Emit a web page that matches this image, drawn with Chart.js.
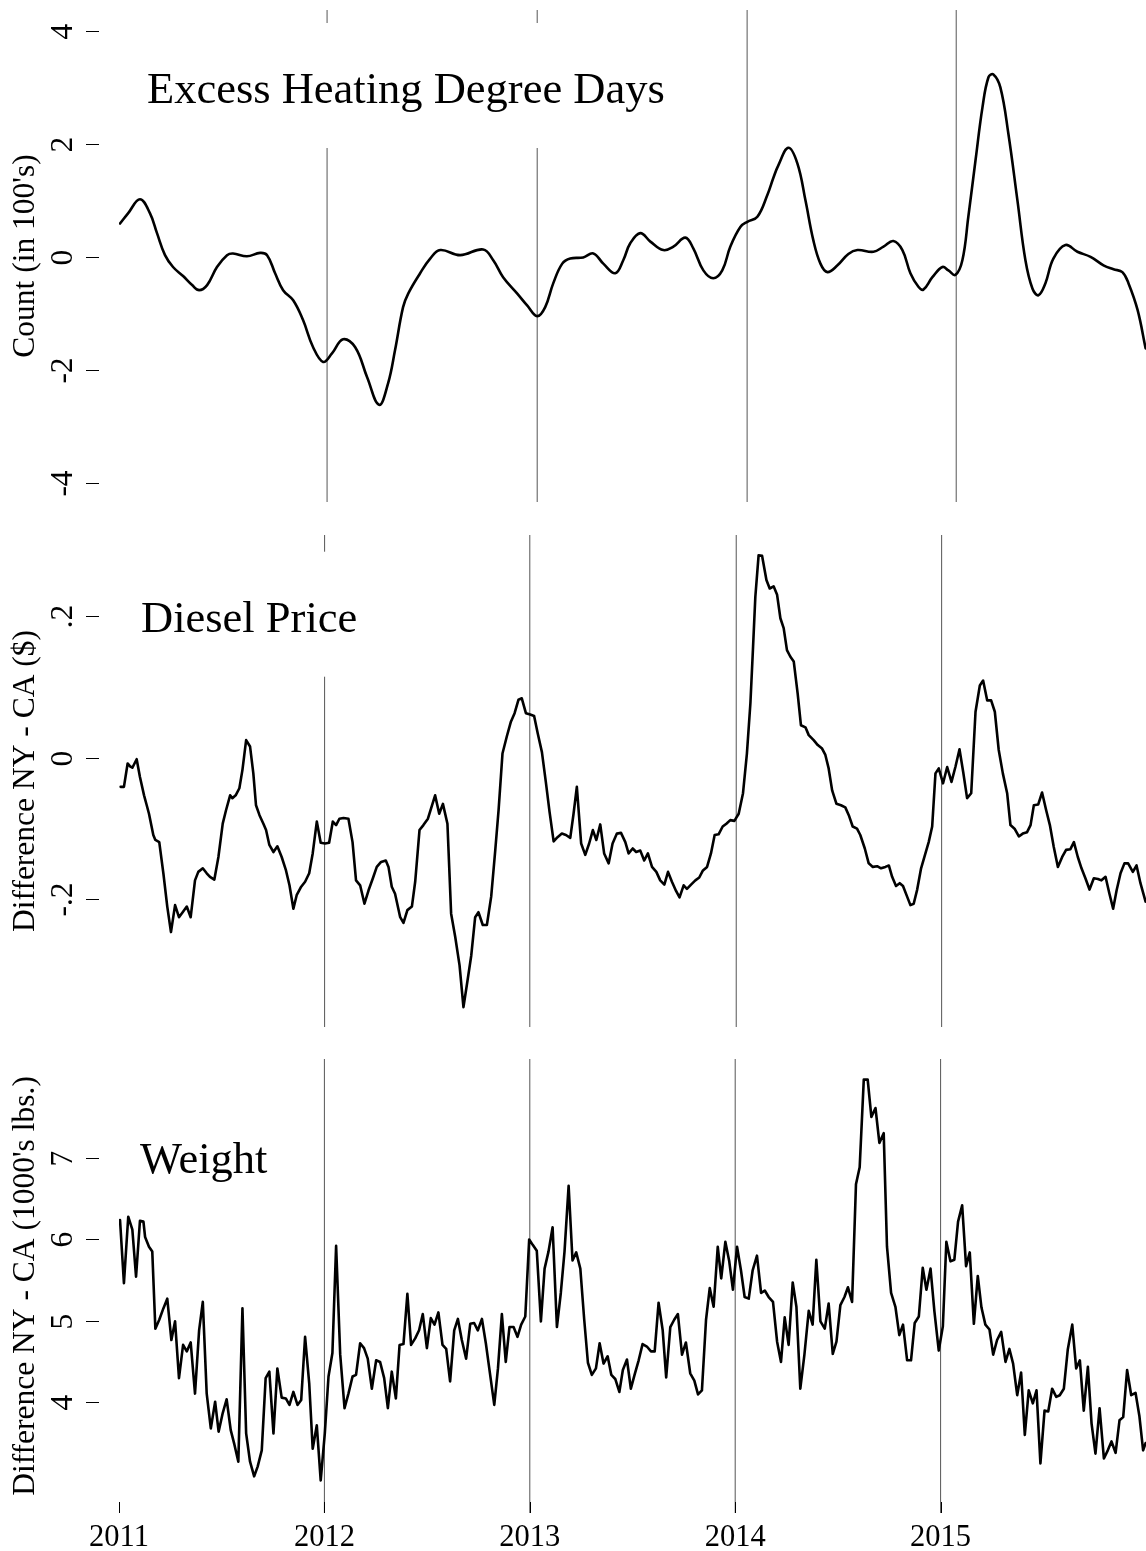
<!DOCTYPE html>
<html>
<head>
<meta charset="utf-8">
<script src="https://cdn.jsdelivr.net/npm/chart.js@4.4.1/dist/chart.umd.min.js"></script>
<style>
    html, body { margin: 0; padding: 0; background: #fff; }
    #wrap { position: relative; width: 1146px; height: 1551px; }
    canvas { position: absolute; left: 0; }
</style>
</head>
<body>
<div id="wrap">
    <canvas id="HeatCanvas" width="1146" height="518" style="top:0px"></canvas>
    <canvas id="DieselCanvas" width="1146" height="518" style="top:518px"></canvas>
    <canvas id="WeightCanvas" width="1146" height="515" style="top:1036px"></canvas>
</div>
<script>
//---------------------- DATA

const yearTicks = [2011, 2012, 2013, 2014, 2015];

// excess heating degree days (smoothed, in 100's)
const heatYears = [
    2011.005, 2011.044, 2011.102, 2011.151, 2011.185, 2011.224, 2011.263, 2011.312, 2011.356, 2011.390,
    2011.429, 2011.477, 2011.526, 2011.555, 2011.623, 2011.687, 2011.721, 2011.760, 2011.799, 2011.848,
    2011.896, 2011.945, 2011.994, 2012.037, 2012.091, 2012.150, 2012.208, 2012.266, 2012.310, 2012.344,
    2012.383, 2012.408, 2012.466, 2012.515, 2012.564, 2012.661, 2012.773, 2012.822, 2012.870, 2012.939,
    2012.987, 2013.036, 2013.075, 2013.114, 2013.158, 2013.197, 2013.260, 2013.309, 2013.358, 2013.416,
    2013.455, 2013.489, 2013.538, 2013.587, 2013.650, 2013.699, 2013.757, 2013.796, 2013.845, 2013.893,
    2013.937, 2013.976, 2014.025, 2014.059, 2014.108, 2014.157, 2014.186, 2014.210, 2014.259, 2014.303,
    2014.342, 2014.380, 2014.415, 2014.449, 2014.498, 2014.551, 2014.595, 2014.673, 2014.722, 2014.770,
    2014.814, 2014.853, 2014.892, 2014.916, 2014.960, 2015.009, 2015.038, 2015.072, 2015.106, 2015.135,
    2015.170, 2015.204, 2015.233, 2015.257, 2015.291, 2015.330, 2015.374, 2015.413, 2015.447, 2015.476,
    2015.510, 2015.549, 2015.608, 2015.666, 2015.730, 2015.793, 2015.842, 2015.885, 2015.915, 2015.959,
    2015.998
];
const heatValues = [
    0.59, 0.77, 1.02, 0.77, 0.42, 0.03, -0.18, -0.34, -0.5, -0.59,
    -0.5, -0.18, 0.03, 0.06, 0.01, 0.07, 0.03, -0.29, -0.59, -0.77,
    -1.12, -1.6, -1.86, -1.71, -1.46, -1.6, -2.13, -2.62, -2.24, -1.65,
    -0.89, -0.65, -0.29, -0.03, 0.12, 0.03, 0.13, -0.06, -0.36, -0.65,
    -0.86, -1.05, -0.89, -0.47, -0.12, -0.03, -0.01, 0.06, -0.12, -0.29,
    -0.06, 0.24, 0.42, 0.27, 0.12, 0.18, 0.34, 0.15, -0.24, -0.38,
    -0.24, 0.18, 0.53, 0.62, 0.71, 1.1, 1.4, 1.62, 1.93, 1.65,
    1.0, 0.3, -0.12, -0.27, -0.15, 0.05, 0.12, 0.09, 0.18, 0.28,
    0.12, -0.29, -0.53, -0.58, -0.36, -0.18, -0.24, -0.32, -0.06, 0.71,
    1.71, 2.65, 3.18, 3.23, 3.0, 2.18, 1.0, -0.06, -0.56, -0.68,
    -0.47, -0.03, 0.21, 0.09, 0.0, -0.15, -0.22, -0.27, -0.47, -0.94,
    -1.62
];
const heatBreaks = [2012.013, 2013.036, 2014.058, 2015.076];
const heatTicks = [-4, -2, 0, 2, 4];
const heatTickLabels = ['-4', '-2', '0', '2', '4'];

// diesel price difference NY - CA ($), weekly
const dieselYears = [
    2011.008, 2011.024, 2011.042, 2011.054, 2011.065, 2011.086, 2011.102, 2011.122, 2011.135, 2011.146,
    2011.167, 2011.177, 2011.196, 2011.216, 2011.235, 2011.253, 2011.273, 2011.292, 2011.310, 2011.330,
    2011.349, 2011.370, 2011.386, 2011.408, 2011.427, 2011.443, 2011.464, 2011.484, 2011.505, 2011.521,
    2011.541, 2011.552, 2011.568, 2011.586, 2011.601, 2011.619, 2011.638, 2011.654, 2011.667, 2011.684,
    2011.703, 2011.716, 2011.732, 2011.752, 2011.771, 2011.792, 2011.813, 2011.830, 2011.849, 2011.865,
    2011.887, 2011.906, 2011.926, 2011.943, 2011.963, 2011.982, 2012.003, 2012.023, 2012.041, 2012.057,
    2012.073, 2012.093, 2012.117, 2012.137, 2012.154, 2012.174, 2012.195, 2012.215, 2012.236, 2012.255,
    2012.276, 2012.299, 2012.312, 2012.328, 2012.344, 2012.369, 2012.385, 2012.404, 2012.426, 2012.442,
    2012.463, 2012.482, 2012.504, 2012.539, 2012.559, 2012.577, 2012.599, 2012.617, 2012.637, 2012.658,
    2012.677, 2012.697, 2012.715, 2012.734, 2012.750, 2012.771, 2012.791, 2012.812, 2012.832, 2012.848,
    2012.867, 2012.888, 2012.908, 2012.926, 2012.945, 2012.961, 2012.981, 2013.002, 2013.021, 2013.039,
    2013.059, 2013.078, 2013.096, 2013.116, 2013.135, 2013.156, 2013.176, 2013.197, 2013.213, 2013.229,
    2013.250, 2013.270, 2013.289, 2013.307, 2013.324, 2013.343, 2013.362, 2013.384, 2013.403, 2013.424,
    2013.444, 2013.465, 2013.481, 2013.501, 2013.518, 2013.538, 2013.557, 2013.575, 2013.595, 2013.616,
    2013.635, 2013.655, 2013.673, 2013.692, 2013.712, 2013.729, 2013.749, 2013.765, 2013.785, 2013.806,
    2013.825, 2013.843, 2013.863, 2013.882, 2013.900, 2013.919, 2013.939, 2013.957, 2013.976, 2013.996,
    2014.017, 2014.038, 2014.057, 2014.074, 2014.087, 2014.098, 2014.114, 2014.131, 2014.152, 2014.168,
    2014.187, 2014.204, 2014.220, 2014.236, 2014.252, 2014.268, 2014.285, 2014.304, 2014.320, 2014.342,
    2014.358, 2014.382, 2014.402, 2014.423, 2014.439, 2014.455, 2014.472, 2014.493, 2014.515, 2014.536,
    2014.553, 2014.572, 2014.593, 2014.609, 2014.631, 2014.650, 2014.670, 2014.691, 2014.710, 2014.731,
    2014.748, 2014.764, 2014.783, 2014.801, 2014.817, 2014.837, 2014.853, 2014.869, 2014.886, 2014.905,
    2014.924, 2014.942, 2014.959, 2014.975, 2014.991, 2015.012, 2015.032, 2015.053, 2015.072, 2015.092,
    2015.110, 2015.129, 2015.149, 2015.170, 2015.191, 2015.207, 2015.227, 2015.246, 2015.264, 2015.283,
    2015.303, 2015.324, 2015.340, 2015.360, 2015.381, 2015.400, 2015.421, 2015.438, 2015.454, 2015.475,
    2015.494, 2015.514, 2015.532, 2015.551, 2015.571, 2015.592, 2015.611, 2015.632, 2015.649, 2015.668,
    2015.686, 2015.705, 2015.725, 2015.746, 2015.766, 2015.783, 2015.803, 2015.822, 2015.840, 2015.857,
    2015.876, 2015.895, 2015.913, 2015.936, 2015.954, 2015.973, 2015.998
];
const dieselValues = [
    -0.041, -0.041, -0.008, -0.012, -0.014, -0.002, -0.027, -0.053, -0.067, -0.079,
    -0.109, -0.116, -0.119, -0.163, -0.210, -0.246, -0.208, -0.225, -0.218, -0.210,
    -0.225, -0.173, -0.161, -0.156, -0.163, -0.168, -0.172, -0.140, -0.093, -0.074,
    -0.053, -0.057, -0.053, -0.043, -0.017, 0.025, 0.016, -0.022, -0.067, -0.081,
    -0.093, -0.102, -0.123, -0.133, -0.125, -0.140, -0.159, -0.180, -0.213, -0.194,
    -0.182, -0.175, -0.163, -0.135, -0.090, -0.120, -0.121, -0.120, -0.090, -0.095,
    -0.086, -0.085, -0.086, -0.119, -0.173, -0.180, -0.206, -0.187, -0.170, -0.154,
    -0.147, -0.145, -0.154, -0.182, -0.192, -0.225, -0.233, -0.215, -0.210, -0.175,
    -0.102, -0.095, -0.086, -0.053, -0.079, -0.065, -0.093, -0.220, -0.253, -0.293,
    -0.352, -0.314, -0.279, -0.225, -0.218, -0.236, -0.236, -0.196, -0.130, -0.074,
    0.006, 0.030, 0.051, 0.063, 0.082, 0.084, 0.063, 0.061, 0.059, 0.034,
    0.008, -0.034, -0.076, -0.118, -0.112, -0.107, -0.109, -0.113, -0.079, -0.041,
    -0.121, -0.137, -0.121, -0.102, -0.116, -0.094, -0.135, -0.149, -0.121, -0.107,
    -0.106, -0.119, -0.135, -0.128, -0.133, -0.131, -0.145, -0.135, -0.154, -0.161,
    -0.173, -0.179, -0.161, -0.175, -0.188, -0.197, -0.180, -0.185, -0.179, -0.173,
    -0.169, -0.159, -0.154, -0.135, -0.109, -0.108, -0.097, -0.093, -0.088, -0.089,
    -0.079, -0.050, 0.006, 0.077, 0.157, 0.227, 0.286, 0.285, 0.251, 0.239,
    0.242, 0.230, 0.197, 0.183, 0.152, 0.143, 0.136, 0.091, 0.046, 0.043,
    0.032, 0.025, 0.018, 0.013, 0.004, -0.015, -0.046, -0.065, -0.067, -0.070,
    -0.081, -0.097, -0.100, -0.109, -0.128, -0.149, -0.154, -0.153, -0.156, -0.154,
    -0.152, -0.168, -0.181, -0.177, -0.181, -0.196, -0.208, -0.206, -0.186, -0.156,
    -0.137, -0.119, -0.097, -0.022, -0.015, -0.036, -0.013, -0.034, -0.013, 0.012,
    -0.020, -0.057, -0.050, 0.065, 0.102, 0.109, 0.081, 0.081, 0.065, 0.011,
    -0.022, -0.050, -0.095, -0.100, -0.111, -0.107, -0.105, -0.095, -0.067, -0.066,
    -0.049, -0.074, -0.095, -0.126, -0.154, -0.140, -0.130, -0.129, -0.119, -0.140,
    -0.156, -0.170, -0.186, -0.170, -0.171, -0.173, -0.168, -0.192, -0.213, -0.187,
    -0.163, -0.149, -0.149, -0.161, -0.152, -0.177, -0.203
];
const dieselBreaks = [2012.001, 2013.0, 2014.005, 2015.005];
const dieselTicks = [-0.2, 0, 0.2];
const dieselTickLabels = ['-.2', '0', '.2'];

// weight difference NY - CA (1000's lbs.), weekly
const weightYears = [
    2011.005, 2011.024, 2011.045, 2011.065, 2011.083, 2011.102, 2011.119, 2011.127, 2011.146, 2011.162,
    2011.177, 2011.196, 2011.216, 2011.235, 2011.255, 2011.273, 2011.292, 2011.312, 2011.330, 2011.349,
    2011.370, 2011.390, 2011.408, 2011.427, 2011.447, 2011.468, 2011.485, 2011.505, 2011.524, 2011.544,
    2011.562, 2011.581, 2011.601, 2011.619, 2011.638, 2011.658, 2011.675, 2011.695, 2011.714, 2011.732,
    2011.752, 2011.771, 2011.792, 2011.812, 2011.830, 2011.849, 2011.869, 2011.887, 2011.906, 2011.926,
    2011.943, 2011.963, 2011.982, 2012.002, 2012.020, 2012.039, 2012.057, 2012.077, 2012.098, 2012.117,
    2012.137, 2012.154, 2012.174, 2012.193, 2012.211, 2012.231, 2012.252, 2012.271, 2012.291, 2012.309,
    2012.328, 2012.348, 2012.366, 2012.385, 2012.404, 2012.422, 2012.442, 2012.461, 2012.479, 2012.499,
    2012.518, 2012.536, 2012.555, 2012.575, 2012.593, 2012.612, 2012.632, 2012.650, 2012.669, 2012.690,
    2012.710, 2012.729, 2012.747, 2012.767, 2012.786, 2012.807, 2012.827, 2012.845, 2012.864, 2012.883,
    2012.901, 2012.921, 2012.940, 2012.958, 2012.978, 2012.997, 2013.015, 2013.034, 2013.054, 2013.072,
    2013.091, 2013.111, 2013.132, 2013.151, 2013.169, 2013.189, 2013.208, 2013.226, 2013.246, 2013.265,
    2013.283, 2013.302, 2013.322, 2013.340, 2013.359, 2013.379, 2013.397, 2013.416, 2013.436, 2013.453,
    2013.473, 2013.492, 2013.510, 2013.530, 2013.549, 2013.570, 2013.590, 2013.608, 2013.627, 2013.647,
    2013.664, 2013.684, 2013.703, 2013.721, 2013.741, 2013.760, 2013.781, 2013.801, 2013.819, 2013.838,
    2013.858, 2013.876, 2013.895, 2013.915, 2013.932, 2013.952, 2013.971, 2013.989, 2014.009, 2014.028,
    2014.046, 2014.066, 2014.085, 2014.106, 2014.126, 2014.144, 2014.163, 2014.184, 2014.204, 2014.223,
    2014.241, 2014.260, 2014.280, 2014.298, 2014.317, 2014.337, 2014.358, 2014.377, 2014.395, 2014.415,
    2014.436, 2014.455, 2014.475, 2014.493, 2014.512, 2014.532, 2014.549, 2014.569, 2014.588, 2014.606,
    2014.626, 2014.645, 2014.663, 2014.683, 2014.702, 2014.723, 2014.739, 2014.759, 2014.780, 2014.799,
    2014.817, 2014.837, 2014.856, 2014.874, 2014.894, 2014.913, 2014.931, 2014.951, 2014.970, 2014.991,
    2015.011, 2015.028, 2015.048, 2015.067, 2015.085, 2015.105, 2015.124, 2015.142, 2015.162, 2015.181,
    2015.199, 2015.218, 2015.238, 2015.256, 2015.275, 2015.295, 2015.316, 2015.335, 2015.353, 2015.373,
    2015.392, 2015.410, 2015.429, 2015.449, 2015.467, 2015.486, 2015.506, 2015.524, 2015.543, 2015.563,
    2015.580, 2015.600, 2015.619, 2015.641, 2015.660, 2015.678, 2015.697, 2015.717, 2015.735, 2015.754,
    2015.774, 2015.795, 2015.814, 2015.832, 2015.852, 2015.871, 2015.889, 2015.908, 2015.928, 2015.949,
    2015.968, 2015.986, 2015.998
];
const weightValues = [
    6.24, 5.46, 6.28, 6.12, 5.54, 6.23, 6.22, 6.03, 5.91, 5.85,
    4.90, 5.01, 5.15, 5.27, 4.76, 4.99, 4.29, 4.70, 4.62, 4.73,
    4.10, 4.88, 5.23, 4.10, 3.67, 4.00, 3.63, 3.86, 4.03, 3.65,
    3.47, 3.26, 5.15, 3.61, 3.26, 3.08, 3.20, 3.40, 4.29, 4.37,
    3.61, 4.41, 4.05, 4.04, 3.96, 4.12, 3.96, 4.02, 4.80, 4.23,
    3.42, 3.71, 3.03, 3.61, 4.31, 4.60, 5.92, 4.58, 3.92, 4.10,
    4.31, 4.33, 4.72, 4.66, 4.53, 4.16, 4.51, 4.49, 4.29, 3.92,
    4.37, 4.04, 4.70, 4.71, 5.33, 4.70, 4.78, 4.88, 5.08, 4.66,
    5.03, 4.95, 5.10, 4.70, 4.65, 4.25, 4.88, 5.02, 4.76, 4.53,
    4.96, 4.97, 4.88, 5.02, 4.72, 4.33, 3.96, 4.41, 5.08, 4.49,
    4.92, 4.92, 4.80, 4.95, 5.05, 6.00, 5.93, 5.86, 4.99, 5.64,
    5.85, 6.15, 4.92, 5.34, 5.85, 6.66, 5.74, 5.84, 5.64, 5.01,
    4.48, 4.33, 4.41, 4.72, 4.47, 4.56, 4.33, 4.28, 4.12, 4.39,
    4.52, 4.16, 4.33, 4.51, 4.71, 4.68, 4.62, 4.62, 5.22, 4.88,
    4.30, 4.92, 5.01, 5.08, 4.58, 4.73, 4.35, 4.26, 4.09, 4.14,
    5.01, 5.40, 5.17, 5.91, 5.52, 5.97, 5.73, 5.38, 5.91, 5.62,
    5.29, 5.27, 5.62, 5.80, 5.34, 5.37, 5.29, 5.23, 4.74, 4.49,
    5.04, 4.70, 5.47, 5.17, 4.16, 4.58, 5.12, 4.95, 5.75, 4.99,
    4.90, 5.21, 4.59, 4.74, 5.19, 5.29, 5.41, 5.23, 6.68, 6.89,
    7.97, 7.97, 7.51, 7.62, 7.19, 7.31, 5.91, 5.34, 5.17, 4.82,
    4.95, 4.51, 4.51, 4.97, 5.05, 5.65, 5.38, 5.64, 5.11, 4.63,
    4.93, 5.97, 5.73, 5.75, 6.22, 6.42, 5.67, 5.84, 4.96, 5.55,
    5.16, 4.95, 4.89, 4.58, 4.76, 4.86, 4.49, 4.65, 4.47, 4.08,
    4.36, 3.59, 4.14, 3.98, 4.14, 3.24, 3.89, 3.88, 4.16, 4.06,
    4.08, 4.16, 4.64, 4.95, 4.41, 4.51, 3.89, 4.43, 3.73, 3.36,
    3.92, 3.30, 3.40, 3.51, 3.37, 3.77, 3.81, 4.39, 4.08, 4.11,
    3.82, 3.40, 3.49
];
const weightBreaks = [2012, 2013, 2014, 2015];
const weightTicks = [4, 5, 6, 7];
const weightTickLabels = ['4', '5', '6', '7'];

//---------------------- SETUP

const SERIF = '"Liberation Serif", "Times New Roman", Times, serif';

// title box, rotated y tick labels and outer tick marks (R base graphics look)
const panelDecor = {
    id: 'panelDecor',
    beforeDatasetDraw(chart, args, opts) {
        if (args.index !== 0) return;
        const ctx = chart.ctx;
        ctx.save();
        ctx.font = `44.5px ${SERIF}`;
        const w = ctx.measureText(opts.title).width;
        ctx.fillStyle = '#fff';
        ctx.fillRect(opts.titleX - 25, opts.titleBase - 80, w + 50, 125);
        ctx.fillStyle = '#000';
        ctx.textAlign = 'left';
        ctx.textBaseline = 'alphabetic';
        ctx.fillText(opts.title, opts.titleX, opts.titleBase);
        ctx.restore();
    },
    afterDraw(chart, args, opts) {
        const ctx = chart.ctx;
        const yScale = chart.scales.y;
        ctx.save();
        ctx.strokeStyle = '#000';
        ctx.fillStyle = '#000';
        ctx.lineWidth = 1;
        ctx.font = `31.5px ${SERIF}`;
        ctx.textAlign = 'center';
        ctx.textBaseline = 'alphabetic';
        opts.yTicks.forEach((v, i) => {
            const py = Math.round(yScale.getPixelForValue(v)) + 0.5;
            ctx.beginPath();
            ctx.moveTo(86, py);
            ctx.lineTo(99, py);
            ctx.stroke();
            ctx.save();
            ctx.translate(72, py);
            ctx.rotate(-Math.PI / 2);
            ctx.fillText(opts.yLabels[i], 0, 0);
            ctx.restore();
        });
        if (opts.xTicks) {
            const xScale = chart.scales.x;
            const bottom = chart.chartArea.bottom;
            opts.xTicks.forEach(v => {
                const px = Math.round(xScale.getPixelForValue(v)) + 0.5;
                ctx.beginPath();
                ctx.moveTo(px, bottom - 11);
                ctx.lineTo(px, bottom);
                ctx.stroke();
            });
        }
        ctx.restore();
    }
};

function makePanel(canvasId, p) {
    const datasets = [{
        data: p.years.map((x, i) => ({x: x, y: p.values[i]})),
        borderColor: '#000',
        borderWidth: 2.6,
        pointRadius: 0,
        tension: p.tension,
        borderJoinStyle: 'round',
        borderCapStyle: 'round',
        fill: false
    }];
    p.breaks.forEach(b => {
        datasets.push({
            data: [{x: b, y: p.min}, {x: b, y: p.max}],
            borderColor: '#555',
            borderWidth: 1,
            pointRadius: 0,
            fill: false
        });
    });

    return new Chart(document.getElementById(canvasId).getContext('2d'), {
        type: 'line',
        data: {datasets: datasets},
        plugins: [panelDecor],
        options: {
            responsive: false,
            animation: false,
            events: [],
            layout: {padding: {top: p.padTop, bottom: p.padBottom, left: 0, right: 0}},
            plugins: {
                legend: {display: false},
                tooltip: {enabled: false},
                panelDecor: {
                    title: p.title,
                    titleX: p.titleX,
                    titleBase: p.titleBase,
                    yTicks: p.yTicks,
                    yLabels: p.yLabels,
                    xTicks: p.showX ? yearTicks : null
                }
            },
            scales: {
                x: {
                    type: 'linear',
                    min: 2011,
                    max: 2016,
                    display: p.showX,
                    grid: {display: false, drawTicks: false},
                    border: {display: false},
                    afterBuildTicks: s => { s.ticks = yearTicks.map(v => ({value: v})); },
                    afterFit: s => { s.height = p.showX ? 38 : 0; },
                    ticks: {
                        color: '#000',
                        padding: 7,
                        maxRotation: 0,
                        font: {family: SERIF, size: 30.5},
                        callback: v => String(v)
                    }
                },
                y: {
                    type: 'linear',
                    min: p.min,
                    max: p.max,
                    grid: {display: false},
                    border: {display: false},
                    ticks: {display: false},
                    afterFit: s => { s.width = 119; },
                    title: {
                        display: true,
                        text: p.yTitle,
                        color: '#000',
                        font: {family: SERIF, size: 31.5},
                        padding: {top: 6.4, bottom: 0}
                    }
                }
            }
        }
    });
}

//---------------------- CALLS

makePanel('HeatCanvas', {
    years: heatYears, values: heatValues, breaks: heatBreaks, tension: 0.4,
    min: -4.34, max: 4.37, padTop: 10, padBottom: 16, showX: false,
    yTicks: heatTicks, yLabels: heatTickLabels, yTitle: "Count (in 100's)",
    title: 'Excess Heating Degree Days', titleX: 147, titleBase: 103
});

makePanel('DieselCanvas', {
    years: dieselYears, values: dieselValues, breaks: dieselBreaks, tension: 0,
    min: -0.380, max: 0.3145, padTop: 17, padBottom: 9, showX: false,
    yTicks: dieselTicks, yLabels: dieselTickLabels, yTitle: 'Difference NY - CA ($)',
    title: 'Diesel Price', titleX: 141, titleBase: 113.7
});

makePanel('WeightCanvas', {
    years: weightYears, values: weightValues, breaks: weightBreaks, tension: 0,
    min: 2.628, max: 8.224, padTop: 23, padBottom: 0, showX: true,
    yTicks: weightTicks, yLabels: weightTickLabels, yTitle: "Difference NY - CA (1000's lbs.)",
    title: 'Weight', titleX: 140, titleBase: 137.3
});
</script>
</body>
</html>
